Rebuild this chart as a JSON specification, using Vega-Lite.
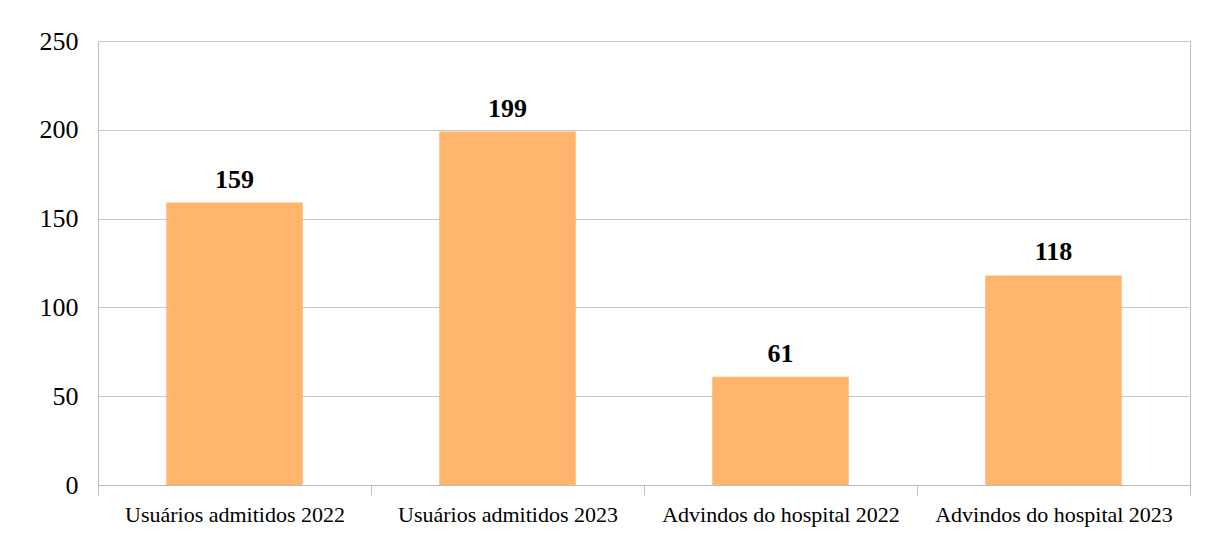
{
  "$schema": "https://vega.github.io/schema/vega-lite/v6.json",
  "autosize": "none",
  "width": 1092,
  "height": 444,
  "padding": {"left": 98, "top": 41, "right": 27, "bottom": 49},
  "background": "white",
  "config": {
    "font": "Liberation Serif",
    "view": {"stroke": "#BDBDBD", "strokeWidth": 1}
  },
  "data": {
    "values": [
      {"categoria": "Usuários admitidos 2022", "valor": 159},
      {"categoria": "Usuários admitidos 2023", "valor": 199},
      {"categoria": "Advindos do hospital 2022", "valor": 61},
      {"categoria": "Advindos do hospital 2023", "valor": 118}
    ]
  },
  "encoding": {
    "x": {
      "field": "categoria",
      "type": "nominal",
      "sort": null,
      "scale": {"paddingInner": 0, "paddingOuter": 0},
      "axis": {
        "title": null,
        "labelAngle": 0,
        "labelFont": "Liberation Serif",
        "labelFontSize": 22,
        "labelLimit": 0,
        "labelColor": "#000000",
        "labelPadding": 9,
        "tickBand": "extent",
        "tickSize": 10,
        "tickColor": "#BDBDBD",
        "domainColor": "#BDBDBD",
        "grid": false
      }
    },
    "y": {
      "field": "valor",
      "type": "quantitative",
      "scale": {"domain": [0, 250]},
      "axis": {
        "title": null,
        "values": [0, 50, 100, 150, 200, 250],
        "labelFont": "Liberation Serif",
        "labelFontSize": 26,
        "labelColor": "#000000",
        "labelPadding": 20,
        "ticks": false,
        "domainColor": "#BDBDBD",
        "gridColor": "#C8C8C8",
        "gridWidth": 1
      }
    }
  },
  "layer": [
    {"mark": {"type": "bar", "color": "#FFB56B", "width": {"band": 0.5}}},
    {
      "mark": {"type": "text", "baseline": "bottom", "dy": -10, "fontSize": 26, "fontWeight": "bold", "font": "Liberation Serif", "color": "#000000"},
      "encoding": {"text": {"field": "valor", "type": "quantitative"}}
    }
  ]
}
